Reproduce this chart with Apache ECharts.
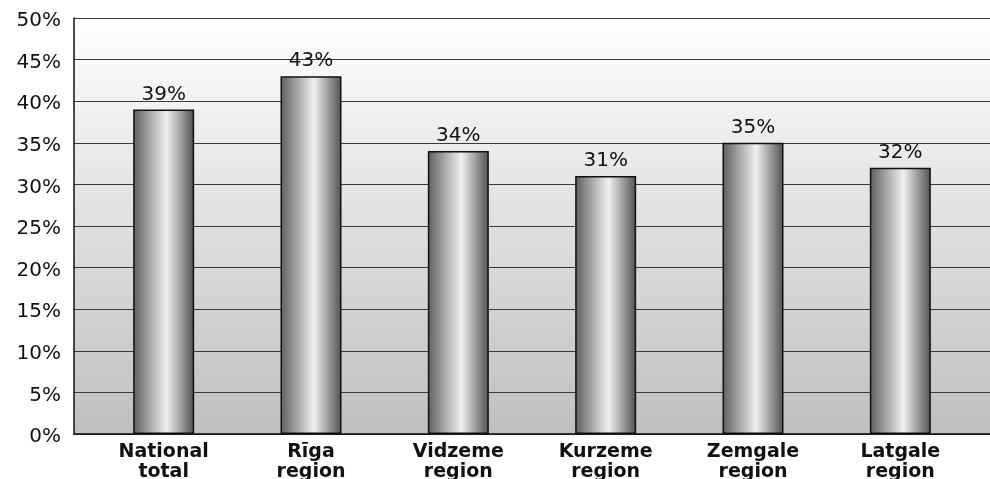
<!DOCTYPE html>
<html>
<head>
<meta charset="utf-8">
<script src="https://cdn.jsdelivr.net/npm/echarts@6/dist/echarts.min.js"></script>
<style>
  html, body { margin: 0; padding: 0; background: #fff; }
  #chart { width: 990px; height: 479px; }
</style>
</head>
<body>
<div id="chart"></div>
<script>
const categories = ["National\ntotal", "Rīga\nregion", "Vidzeme\nregion", "Kurzeme\nregion", "Zemgale\nregion", "Latgale\nregion"];
const shares = [39, 43, 34, 31, 35, 32];
const yTicks = { min: 0, max: 50, step: 5 };

const chart = echarts.init(document.getElementById("chart"));

const barFill = new echarts.graphic.LinearGradient(0, 0, 1, 0, [
  { offset: 0, color: "#5e5e5e" },
  { offset: 0.55, color: "#f0f0f0" },
  { offset: 1, color: "#505050" }
]);
const plotFill = new echarts.graphic.LinearGradient(0, 0, 0, 1, [
  { offset: 0, color: "#ffffff" },
  { offset: 1, color: "#bfbfbf" }
]);

chart.setOption({
  animation: false,
  backgroundColor: "#fff",
  grid: [
    // frame, background and gridlines
    { left: 74, right: 0, top: 18, bottom: 45, outerBoundsMode: "none", show: true, backgroundColor: plotFill, borderWidth: 0 },
    // bars
    { left: 90, right: 16, top: 18, bottom: 45, outerBoundsMode: "none" }
  ],
  xAxis: [
    {
      gridIndex: 0, type: "value", min: 0, max: 1,
      axisLine: { show: true, lineStyle: { color: "#111", width: 1.5 } },
      axisTick: { show: false }, axisLabel: { show: false }, splitLine: { show: false }
    },
    {
      gridIndex: 1, type: "category", data: categories,
      axisLine: { show: false }, axisTick: { show: false },
      axisLabel: {
        margin: 8, color: "#111", fontFamily: "DejaVu Sans", fontWeight: "bold",
        fontSize: 19, lineHeight: 20
      }
    }
  ],
  yAxis: [
    {
      gridIndex: 0, type: "value", min: yTicks.min, max: yTicks.max, interval: yTicks.step,
      axisLine: { show: true, lineStyle: { color: "#111", width: 1.5 } },
      axisTick: { show: false },
      axisLabel: {
        formatter: (v) => "{t|" + v + "%}", margin: 13,
        rich: { t: { color: "#111", fontFamily: "DejaVu Sans", fontSize: 20, padding: [6, 0, 0, 0] } }
      },
      splitLine: { show: true, lineStyle: { color: "#3a3a3a", width: 1 } }
    },
    {
      gridIndex: 1, type: "value", min: yTicks.min, max: yTicks.max, interval: yTicks.step,
      axisLine: { show: false }, axisTick: { show: false }, axisLabel: { show: false }, splitLine: { show: false }
    }
  ],
  series: [
    {
      type: "bar",
      xAxisIndex: 1, yAxisIndex: 1,
      barWidth: 61,
      data: shares,
      itemStyle: { color: barFill, borderColor: "#111", borderWidth: 1.5 },
      label: {
        show: true, position: "top", distance: 5, formatter: "{c}%",
        color: "#111", fontFamily: "DejaVu Sans", fontSize: 20
      }
    }
  ]
});
</script>
</body>
</html>
